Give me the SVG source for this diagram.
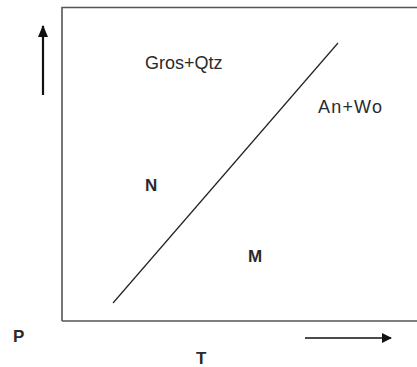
<svg xmlns="http://www.w3.org/2000/svg" width="417" height="367" viewBox="0 0 417 367">
<defs>
<style>
.lbl{font-family:"Liberation Sans",Arial,sans-serif;font-size:18px;fill:#2a2a2a}
.b{font-weight:bold;font-size:17px}
</style>
<marker id="ah" viewBox="0 0 10 10" refX="9" refY="5" markerWidth="10" markerHeight="10" markerUnits="userSpaceOnUse" orient="auto">
<path d="M0,0 L10,5 L0,10 Z" fill="#111"/>
</marker>
<marker id="ah2" viewBox="0 0 12 10" refX="11" refY="5" markerWidth="12" markerHeight="12" markerUnits="userSpaceOnUse" orient="auto">
<path d="M0,0 L12,5 L0,10 Z" fill="#111"/>
</marker>
</defs>
<rect width="417" height="367" fill="#fff"/>
<g id="frame">
<path d="M62,321 L62,7.5 L420,7.5" fill="none" stroke="#555" stroke-width="1.6"/>
<path d="M62,321 L420,321" fill="none" stroke="#555" stroke-width="1.6"/>
</g>
<g id="connectors">
<line x1="43" y1="95" x2="43" y2="26" stroke="#111" stroke-width="2.2" marker-end="url(#ah2)"/>
<line x1="305" y1="338" x2="391" y2="338" stroke="#111" stroke-width="1.6" marker-end="url(#ah)"/>
<line x1="113" y1="303" x2="338" y2="43" stroke="#222" stroke-width="1.2"/>
</g>
<g id="gros-qtz"><text class="lbl" x="145" y="69">Gros+Qtz</text></g>
<g id="an-wo"><text class="lbl" x="318" y="113" textLength="64">An+Wo</text></g>
<g id="n"><text class="lbl b" x="145" y="191">N</text></g>
<g id="m"><text class="lbl b" x="248" y="262">M</text></g>
<g id="p"><text class="lbl b" x="13" y="342">P</text></g>
<g id="t"><text class="lbl b" x="196" y="364">T</text></g>
</svg>
